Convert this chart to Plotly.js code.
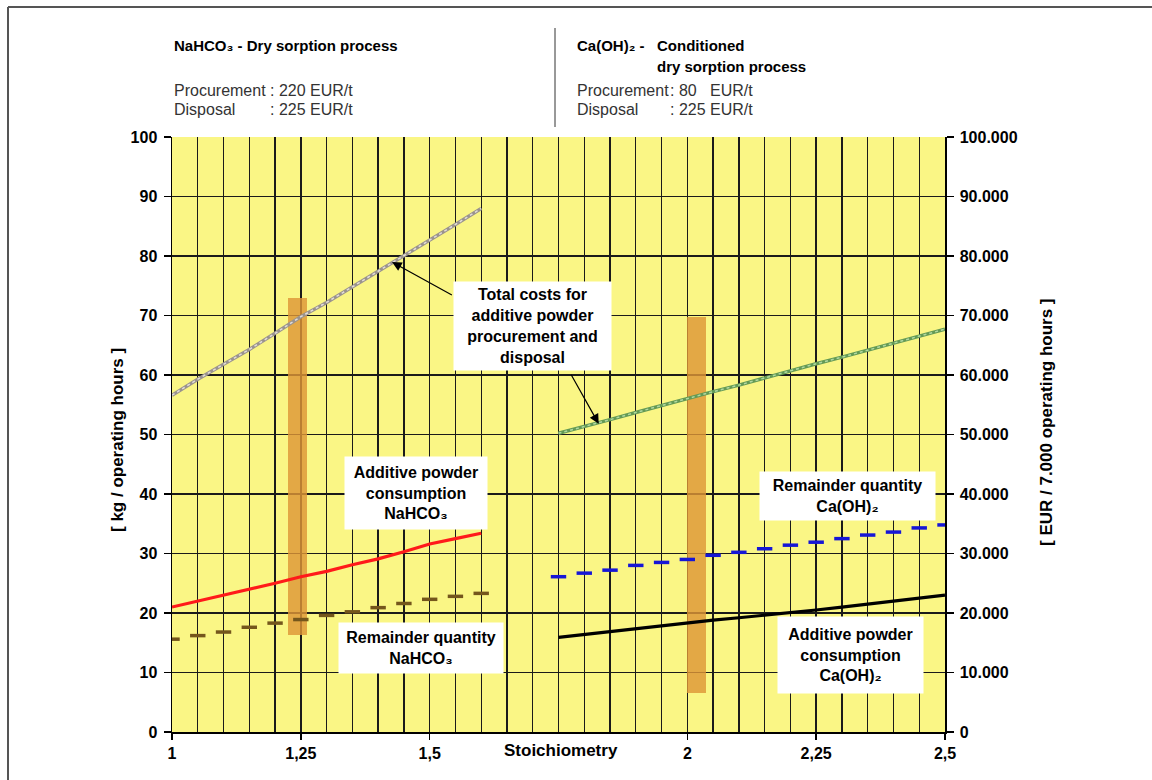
<!DOCTYPE html>
<html>
<head>
<meta charset="utf-8">
<script src="https://cdn.plot.ly/plotly-3.0.1.min.js"></script>
<style>
  html, body { margin: 0; padding: 0; background: #ffffff; }
  #chart { width: 1152px; height: 780px; }
</style>
</head>
<body>
<div id="chart"></div>
<script>
// ---- Data ----
const xNa = [1.00, 1.05, 1.10, 1.15, 1.20, 1.25, 1.30, 1.35, 1.40, 1.45, 1.50, 1.55, 1.60];
const naConsumption = [21.0, 22.0, 23.0, 23.9, 25.0, 26.1, 27.0, 28.1, 29.1, 30.3, 31.6, 32.5, 33.4];
const naRemainder = [15.6, 16.2, 16.8, 17.6, 18.3, 18.9, 19.6, 20.2, 20.9, 21.6, 22.3, 22.8, 23.3];
const naCost = [56600, 59300, 61800, 64300, 67000, 69800, 72200, 74800, 77400, 80000, 82700, 85300, 88000];

const xCa = [1.75, 1.80, 1.85, 1.90, 1.95, 2.00, 2.05, 2.10, 2.15, 2.20, 2.25, 2.30, 2.35, 2.40, 2.45, 2.50];
const caConsumption = [15.9, 16.4, 16.9, 17.4, 17.9, 18.4, 18.8, 19.2, 19.6, 20.1, 20.5, 21.0, 21.5, 22.0, 22.5, 23.0];
const caRemainder = [26.1, 26.7, 27.2, 28.0, 28.5, 29.0, 29.7, 30.2, 30.8, 31.4, 31.9, 32.5, 33.1, 33.6, 34.3, 34.8];
const caCost = [50200, 51300, 52500, 53700, 54900, 56100, 57200, 58300, 59500, 60800, 61900, 63000, 64200, 65300, 66500, 67700];

// highlighted operating points (vertical bands)
const bandX = [1.243, 2.018];
const bandLow = [16.3, 6.5];
const bandHigh = [72.9, 69.8];

const xTickVals = [1, 1.25, 1.5, 2, 2.25, 2.5];
const xTickText = ['1', '1,25', '1,5', '2', '2,25', '2,5'];
const yRightVals = [0, 10000, 20000, 30000, 40000, 50000, 60000, 70000, 80000, 90000, 100000];
const yRightText = ['0', '10.000', '20.000', '30.000', '40.000', '50.000', '60.000', '70.000', '80.000', '90.000', '100.000'];

// ---- Styling ----
const FONT = 'Liberation Sans, Arial, sans-serif';
const bold = (size) => ({ family: FONT, size: size, color: '#000', weight: 'bold' });
const NA = 'NaHCO\u2083';
const CA = 'Ca(OH)\u2082';

const traces = [
  {
    type: 'bar', x: bandX, base: bandLow,
    y: bandHigh.map((h, i) => h - bandLow[i]),
    width: [0.037, 0.036],
    marker: { color: 'rgba(222,150,55,0.82)', line: { width: 0 } },
    hoverinfo: 'skip', showlegend: false
  },
  { type: 'scatter', mode: 'lines', x: xNa, y: naCost, yaxis: 'y2',
    line: { color: '#9a938e', width: 3.5 }, showlegend: false },
  { type: 'scatter', mode: 'lines', x: xNa, y: naCost, yaxis: 'y2',
    line: { color: '#e2ddd8', width: 1.5, dash: 'dot' }, showlegend: false },
  { type: 'scatter', mode: 'lines', x: xCa, y: caCost, yaxis: 'y2',
    line: { color: '#649a55', width: 3.5 }, showlegend: false },
  { type: 'scatter', mode: 'lines', x: xCa, y: caCost, yaxis: 'y2',
    line: { color: '#b0d8a0', width: 1.5, dash: 'dot' }, showlegend: false },
  { type: 'scatter', mode: 'lines', x: xNa, y: naConsumption,
    line: { color: '#ff1a1a', width: 3.2 }, showlegend: false },
  { type: 'scatter', mode: 'markers', x: xNa, y: naRemainder,
    marker: { symbol: 'line-ew', size: 11, line: { color: '#74561c', width: 3.5 } }, showlegend: false },
  { type: 'scatter', mode: 'lines', x: xCa, y: caConsumption,
    line: { color: '#000000', width: 3.2 }, showlegend: false },
  { type: 'scatter', mode: 'markers', x: xCa, y: caRemainder,
    marker: { symbol: 'line-ew', size: 11, line: { color: '#1616d6', width: 3.5 } }, showlegend: false }
];

// pixel helpers for paper-positioned text (plot area: x 172..945, y 137..732)
const L = 172, R = 945, T = 137, B = 732;
const px = (x) => (x - L) / (R - L);
const py = (y) => (B - y) / (B - T);

const hdr = (text, x, y, font) => ({
  xref: 'paper', yref: 'paper', x: px(x), y: py(y), xanchor: 'left', yanchor: 'middle',
  text: text, showarrow: false,
  font: font || { family: FONT, size: 16, color: '#333' }
});
const hdrBold = { family: FONT, size: 15, color: '#000', weight: 'bold' };

const box = (text, x, y, w, h) => ({
  xref: 'x', yref: 'y', x: x, y: y, text: text, showarrow: false,
  bgcolor: '#ffffff', borderpad: 0, width: w, height: h, align: 'center',
  font: bold(16)
});

const annotations = [
  // header
  hdr(NA + ' - Dry sorption process', 172, 45, hdrBold),
  hdr('Procurement', 172, 90), hdr(': 220 EUR/t', 268, 90),
  hdr('Disposal', 172, 110), hdr(': 225 EUR/t', 268, 110),
  hdr(CA + ' -', 575, 45, hdrBold),
  hdr('Conditioned', 655, 45, hdrBold),
  hdr('dry sorption process', 655, 67, hdrBold),
  hdr('Procurement', 575, 90), hdr(': 80   EUR/t', 668, 90),
  hdr('Disposal', 575, 110), hdr(': 225 EUR/t', 668, 110),

  // axis titles
  { xref: 'paper', yref: 'paper', x: px(117), y: py(440), textangle: -90, showarrow: false,
    text: '[ kg / operating hours ]', font: bold(17), xanchor: 'center', yanchor: 'middle' },
  { xref: 'paper', yref: 'paper', x: px(1046), y: py(422), textangle: -90, showarrow: false,
    text: '[ EUR / 7.000 operating hours ]', font: bold(17), xanchor: 'center', yanchor: 'middle' },
  { xref: 'x', yref: 'paper', x: 1.755, y: py(751), showarrow: false,
    text: 'Stoichiometry', font: bold(17), xanchor: 'center', yanchor: 'middle' },

  // text boxes
  box('Total costs for<br>additive powder<br>procurement and<br>disposal', 1.700, 68.2, 157, 88),
  box('Additive powder<br>consumption<br>' + NA, 1.474, 40.2, 142, 72),
  box('Remainder quantity<br>' + NA, 1.483, 14.2, 164, 50),
  box('Remainder quantity<br>' + CA, 2.31, 39.7, 175, 48),
  box('Additive powder<br>consumption<br>' + CA, 2.317, 13.0, 145, 76),

  // arrows
  { xref: 'x', yref: 'y', axref: 'x', ayref: 'y', x: 1.427, y: 79.0, ax: 1.546, ay: 73.3,
    text: '', showarrow: true, arrowhead: 2, arrowsize: 1.6, arrowwidth: 1.2, arrowcolor: '#000' },
  { xref: 'x', yref: 'y', axref: 'x', ayref: 'y', x: 1.828, y: 51.8, ax: 1.773, ay: 60.3,
    text: '', showarrow: true, arrowhead: 2, arrowsize: 1.6, arrowwidth: 1.2, arrowcolor: '#000' }
];

const shapes = [
  // header divider
  { type: 'line', xref: 'paper', yref: 'paper', x0: px(555), x1: px(555), y0: py(127), y1: py(28),
    line: { color: '#333', width: 1 } },
  // outer frame (left and top)
  { type: 'line', xref: 'paper', yref: 'paper', x0: px(8), x1: px(8), y0: py(790), y1: py(7),
    line: { color: '#555', width: 2 } },
  { type: 'line', xref: 'paper', yref: 'paper', x0: px(8), x1: px(1160), y0: py(7), y1: py(7),
    line: { color: '#555', width: 2 } }
];

const layout = {
  width: 1152, height: 780,
  margin: { l: L, r: 1152 - R, t: T, b: 780 - B, pad: 0 },
  paper_bgcolor: '#ffffff', plot_bgcolor: '#FAF685',
  showlegend: false, barmode: 'overlay', bargap: 0,
  xaxis: {
    range: [1, 2.5], tickvals: xTickVals, ticktext: xTickText,
    ticks: 'outside', ticklen: 6, tickwidth: 1.5, tickcolor: '#000',
    showgrid: true, gridcolor: '#1a1a1a', gridwidth: 1.4,
    minor: { tick0: 1, dtick: 0.05, showgrid: true, gridcolor: '#1a1a1a', gridwidth: 1.4, ticks: '' },
    showline: true, linecolor: '#000', linewidth: 1.5, zeroline: false,
    tickfont: bold(16), ticklabelstandoff: 0, fixedrange: true
  },
  yaxis: {
    range: [0, 100], dtick: 10, tick0: 0,
    ticks: 'outside', ticklen: 7, tickwidth: 1.5, tickcolor: '#000',
    showgrid: true, gridcolor: '#1a1a1a', gridwidth: 1.4,
    showline: true, linecolor: '#000', linewidth: 1.5, zeroline: false,
    tickfont: bold(16), ticklabelstandoff: 3, fixedrange: true
  },
  yaxis2: {
    overlaying: 'y', side: 'right', range: [0, 100000],
    tickvals: yRightVals, ticktext: yRightText,
    ticks: 'outside', ticklen: 7, tickwidth: 1.5, tickcolor: '#000',
    showgrid: false, showline: true, linecolor: '#000', linewidth: 1.5, zeroline: false,
    tickfont: bold(16), ticklabelstandoff: 3, fixedrange: true
  },
  annotations: annotations,
  shapes: shapes
};

Plotly.newPlot('chart', traces, layout, { displayModeBar: false, staticPlot: true });
</script>
</body>
</html>
